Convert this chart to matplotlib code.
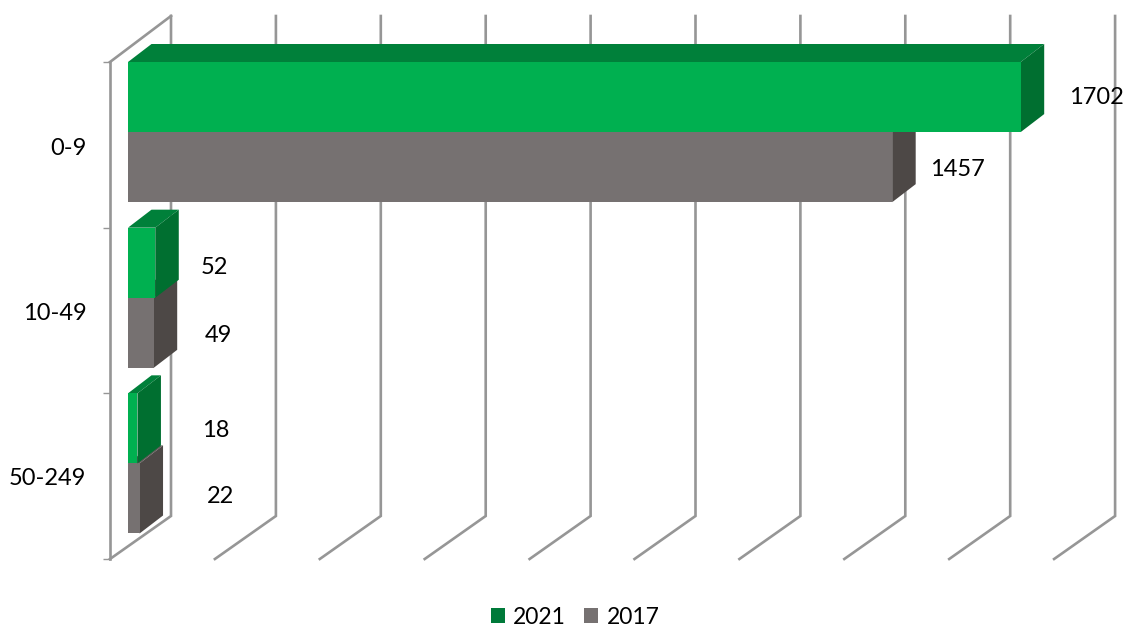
import matplotlib
matplotlib.use("Agg")
import matplotlib.pyplot as plt
from matplotlib.patches import Polygon, Patch

categories = ["0-9", "10-49", "50-249"]
values_2021 = [1702, 52, 18]
values_2017 = [1457, 49, 22]
gridvalues = [0, 200, 400, 600, 800, 1000, 1200, 1400, 1600, 1800]

# layout in pixels
W, H = 1123, 626
LEFT, TOP, BOTTOM = 110, 62, 559
PX_PER_UNIT = 0.5245
BAND = (BOTTOM - TOP) / 3
GAP_X = 18 / PX_PER_UNIT       # wall to bar front
WALL_DX, WALL_DY, WALL_TOP_DY = 61 / PX_PER_UNIT, 43 / BAND, 46 / BAND
BAR_DX, BAR_DY = 23.5 / PX_PER_UNIT, 18 / BAND
BAR_H = 0.423
GRID = "#969696"
GREEN, GREEN_TOP, GREEN_SIDE = "#00B050", "#00803A", "#006F30"
GRAY, GRAY_TOP, GRAY_SIDE = "#767171", "#5F5A58", "#4D4846"
LABEL_DX_2021 = [48, 45, 65]
LABEL_DX_2017 = [38, 51, 67]
LABEL_DY_2021 = [0, -5, -2]
LABEL_DY_2017 = [-2, -3, 2]
FS = 17

plt.rcParams["font.family"] = ["Lato", "DejaVu Sans"]
fig = plt.figure(figsize=(W / 100, H / 100), dpi=100)
ax = fig.add_axes([LEFT / W, (H - BOTTOM) / H, (W - LEFT) / W, (BOTTOM - TOP) / H])
ax.set_xlim(-GAP_X, (W - LEFT) / PX_PER_UNIT - GAP_X)
ax.set_ylim(3, 0)

for s in ["top", "right", "bottom"]:
    ax.spines[s].set_visible(False)
ax.spines["left"].set_color(GRID)
ax.spines["left"].set_linewidth(1.9)
ax.set_xticks([])
ax.set_yticks([0, 1, 2, 3])
ax.set_yticklabels([])
ax.tick_params(axis="y", which="major", length=5, width=1, color=GRID)
ax.set_yticks([0.51, 1.505, 2.5], minor=True)
ax.set_yticklabels(categories, minor=True, fontsize=FS, color="black")
ax.tick_params(axis="y", which="minor", length=0, pad=17)

# walls and floor
for v in gridvalues:
    x0 = v - GAP_X
    x1 = x0 + WALL_DX
    ax.plot([x0, x1, x1], [3, 3 - WALL_DY, -WALL_TOP_DY], color=GRID, lw=1.9,
            clip_on=False, zorder=1, solid_joinstyle="miter")
ax.plot([-GAP_X, -GAP_X + WALL_DX], [0, -WALL_TOP_DY], color=GRID, lw=1.9, clip_on=False, zorder=1)


def bar3d(v, y0, front, top, side, z):
    y1 = y0 + BAR_H
    ax.barh(y0 + BAR_H / 2, v, height=BAR_H, color=front, linewidth=0, zorder=z + 0.2, clip_on=False)
    ax.add_patch(Polygon([(0, y0), (v, y0), (v + BAR_DX, y0 - BAR_DY), (BAR_DX, y0 - BAR_DY)],
                         closed=True, fc=top, ec="none", zorder=z, clip_on=False))
    ax.add_patch(Polygon([(v, y0), (v + BAR_DX, y0 - BAR_DY), (v + BAR_DX, y1 - BAR_DY), (v, y1)],
                         closed=True, fc=side, ec="none", zorder=z + 0.1, clip_on=False))


for i in range(len(categories)):
    bar3d(values_2017[i], i + BAR_H, GRAY, GRAY_TOP, GRAY_SIDE, 2 + i)
    bar3d(values_2021[i], i, GREEN, GREEN_TOP, GREEN_SIDE, 2.5 + i)
    ax.annotate(str(values_2021[i]), (values_2021[i], i + BAR_H / 2),
                xytext=(LABEL_DX_2021[i] * 0.72, LABEL_DY_2021[i] * 0.72),
                textcoords="offset points", ha="left", va="center", fontsize=FS, color="black", zorder=10)
    ax.annotate(str(values_2017[i]), (values_2017[i], i + 1.5 * BAR_H),
                xytext=(LABEL_DX_2017[i] * 0.72, LABEL_DY_2017[i] * 0.72),
                textcoords="offset points", ha="left", va="center", fontsize=FS, color="black", zorder=10)

handles = [Patch(fc="#007A3A", ec="none", label="2021"), Patch(fc=GRAY, ec="none", label="2017")]
fig.legend(handles=handles, loc="center", bbox_to_anchor=(575 / W, (H - 617) / H), ncol=2, frameon=False,
           fontsize=16.5, handlelength=0.62, handleheight=0.62, handletextpad=0.35, columnspacing=0.8,
           borderpad=0, borderaxespad=0)

fig.savefig("out.png", dpi=100, facecolor="white")
